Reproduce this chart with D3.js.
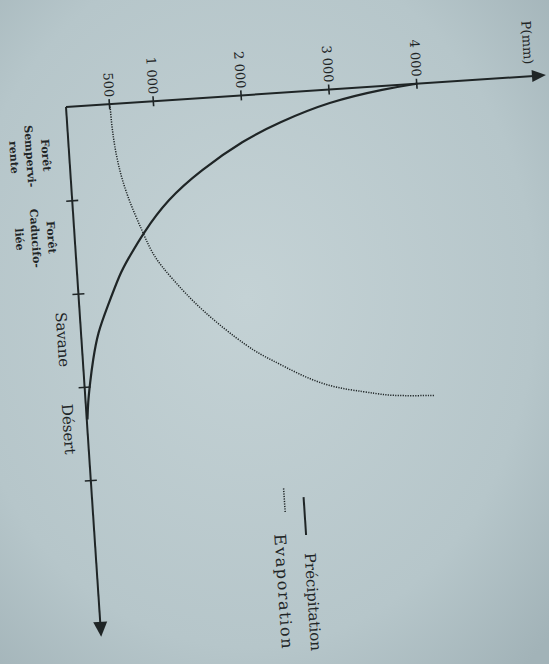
<!DOCTYPE html>
<html>
<head>
<meta charset="utf-8">
<script src="https://cdn.jsdelivr.net/npm/d3@7"></script>
<style>
  body { margin: 0; background: #bccbcf; }
  text { font-family: "DejaVu Serif", serif; fill: #1f2526; }
</style>
</head>
<body>
<div id="chart"></div>
<script>
const width = 549
const height = 664

// Zones along the horizontal axis, boundaries at 1..4
const zoneTicks = [1, 2, 3, 4]
const zoneCenters = [0.5, 1.38, 2.48, 3.44]
const zoneNames = [
  ["Forêt", "Sempervi-", "rente"],
  ["Forêt", "Caducifo-", "liée"],
  ["Savane"],
  ["Désert"]
]

// Vertical axis ticks, mm
const mmTicks = [500, 1000, 2000, 3000, 4000]

// Précipitation curve (solid)
const precipX = [0, 0.03, 0.13, 0.32, 0.48, 0.77, 1.06, 1.4, 1.68, 1.81, 2.16, 2.43, 2.72, 2.96, 3.17, 3.35]
const precipP = [4000, 3650, 2980, 2390, 1990, 1480, 1080, 780, 580, 490, 320, 190, 115, 65, 27, 8]

// Evaporation curve (dotted)
const evapX = [0, 0.28, 0.63, 1.0, 1.4, 1.66, 1.89, 2.26, 2.72, 2.84, 3.03, 3.18, 3.25, 3.30, 3.32, 3.34]
const evapE = [500, 505, 540, 625, 780, 880, 1060, 1370, 1910, 2135, 2460, 2800, 3170, 3400, 3590, 3960]

const seriesNames = ["Précipitation", "Evaporation"]

const ink = "#1f2526"

const svg = d3.select("#chart")
  .append("svg")
    .attr("width", width)
    .attr("height", height)

// paper background
const grad = svg.append("defs").append("radialGradient")
    .attr("id", "paper")
    .attr("cx", "45%").attr("cy", "45%").attr("r", "75%")
grad.append("stop").attr("offset", "0%").attr("stop-color", "#c4d2d5")
grad.append("stop").attr("offset", "70%").attr("stop-color", "#b6c6ca")
grad.append("stop").attr("offset", "100%").attr("stop-color", "#a2b3b8")

svg.append("rect")
    .attr("width", width)
    .attr("height", height)
    .attr("fill", "url(#paper)")

// the printed figure is turned a quarter turn on the page
const g = svg.append("g")
    .attr("transform", "translate(66,107) rotate(86.2)")

const x = d3.scaleLinear()
    .domain([0, 4])
    .range([0, 374])

const y = d3.scaleLinear()
    .domain([0, 4000])
    .range([0, -352])

const xEnd = 531
const yEnd = -481

const fmt = d3.formatLocale({ decimal: ",", thousands: " ", grouping: [3], currency: ["", ""] }).format(",")

// --- axes ---
const xAxis = g.append("g")
    .call(d3.axisBottom(x).tickValues(zoneTicks).tickFormat(() => "").tickSizeOuter(0))
xAxis.select(".domain").remove()
xAxis.selectAll(".tick line")
    .attr("y1", -6).attr("y2", 6)
    .attr("stroke", ink).attr("stroke-width", 1.6)

const yAxis = g.append("g")
    .call(d3.axisLeft(y).tickValues(mmTicks).tickFormat(fmt).tickSize(5).tickPadding(2).tickSizeOuter(0))
yAxis.select(".domain").remove()
yAxis.selectAll(".tick line")
    .attr("x1", -5).attr("x2", 5)
    .attr("stroke", ink).attr("stroke-width", 1.6)
yAxis.selectAll(".tick text")
    .attr("font-family", "DejaVu Serif")
    .attr("font-size", 13)
    .attr("fill", ink)

// axis lines with arrow heads
g.append("path")
    .attr("d", d3.line()([[0, 0], [xEnd - 12, 0]]))
    .attr("stroke", ink).attr("stroke-width", 2).attr("fill", "none")
g.append("path")
    .attr("d", d3.line()([[0, 0], [0, yEnd + 12]]))
    .attr("stroke", ink).attr("stroke-width", 2).attr("fill", "none")
g.append("path")
    .attr("d", `M${xEnd},0 L${xEnd - 15},-7 L${xEnd - 15},7 Z`)
    .attr("fill", ink)
g.append("path")
    .attr("d", `M0,${yEnd} L-6,${yEnd + 14} L6,${yEnd + 14} Z`)
    .attr("fill", ink)

g.append("text")
    .attr("x", -12)
    .attr("y", y(4000) - 108)
    .attr("text-anchor", "end")
    .attr("font-size", 13)
    .text("P(mm)")

// --- curves ---
const line = d3.line()
    .x(d => x(d[0]))
    .y(d => y(d[1]))
    .curve(d3.curveBasis)

g.append("path")
    .attr("d", line(d3.zip(precipX, precipP)))
    .attr("fill", "none")
    .attr("stroke", ink)
    .attr("stroke-width", 2.2)

g.append("path")
    .attr("d", line(d3.zip(evapX, evapE)))
    .attr("fill", "none")
    .attr("stroke", ink)
    .attr("stroke-width", 1.5)
    .attr("stroke-dasharray", "1.2,1.3")

// --- zone labels under the axis ---
zoneNames.forEach((lines, i) => {
  const big = lines.length === 1
  const t = g.append("text")
      .attr("text-anchor", "middle")
      .attr("font-size", big ? 15 : 11)
      .attr("font-weight", big ? "normal" : "bold")
  lines.forEach((s, j) => {
    t.append("tspan")
        .attr("x", x(zoneCenters[i]))
        .attr("y", (big ? 24 : 27) + j * 16)
        .text(s)
  })
})

// --- legend ---
const legend = g.append("g")
    .attr("transform", "translate(400,0)")

legend.append("line")
    .attr("x1", 5).attr("x2", 43)
    .attr("y1", y(2400)).attr("y2", y(2400))
    .attr("stroke", ink).attr("stroke-width", 2)
legend.append("text")
    .attr("x", 61).attr("y", y(2370))
    .attr("font-size", 15)
    .text(seriesNames[0])

legend.append("line")
    .attr("x1", -5).attr("x2", 20)
    .attr("y1", y(2180)).attr("y2", y(2180))
    .attr("stroke", ink).attr("stroke-width", 1.5)
    .attr("stroke-dasharray", "1.2,1.3")
legend.append("text")
    .attr("x", 40).attr("y", y(2040))
    .attr("font-size", 16)
    .attr("letter-spacing", 1.6)
    .text(seriesNames[1])
</script>
</body>
</html>
